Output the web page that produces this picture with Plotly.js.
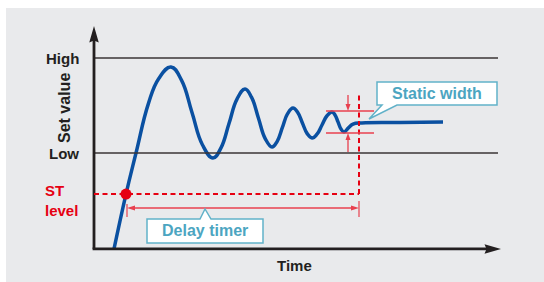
<!DOCTYPE html>
<html>
<head>
<meta charset="utf-8">
<script src="https://cdn.plot.ly/plotly-3.0.1.min.js"></script>
<style>html,body{margin:0;padding:0;background:#fff;}#chart{width:544px;height:282px;}</style>
</head>
<body>
<div id="chart"></div>
<script>
// ---------- data (time units, set-value units: Low = 0, High = 100) ----------
const curveTime  = [5, 8, 10.5, 13.6, 16.2, 19.25, 21.9, 24.5, 27.1, 29.75, 31.75, 33.75, 35.75, 37.75, 39.4, 41.1, 42.8, 44.5, 45.8, 47.1, 48.4, 49.75, 50.9, 52.1, 53.3, 54.5, 55.75, 57, 58.25, 59.5, 60.25, 61, 61.75, 62.5, 63.6, 64.75, 67, 76.5, 87.25];
const curveValue = [-101, -43.2, 0, 52, 78.5, 90.5, 76.5, 42.6, 8.7, -5.3, 5.4, 31, 56.7, 67.4, 58.5, 36.9, 15.2, 6.3, 12.3, 26.9, 41.4, 47.4, 42.8, 31.6, 20.4, 15.8, 19.8, 29.5, 39.2, 43.2, 40.1, 32.7, 25.2, 22.1, 26.5, 30.4, 31.7, 32.2, 32.6];
const levelLabels = ['High', 'Low'];
const levelValues = [100, 0];
const levelEndTime = 101;
const stLevelValue = -43.2;
const stCrossTime = 8;
const delayStartTime = 8.25;
const delayEndTime = 66.25;
const delayArrowValue = -57.9;
const bandTop = 44.2;
const bandBottom = 21.05;
const bandStartTime = 58;
const bandEndTime = 70;
const bandArrowTime = 63.5;
const axisTimeMax = 101.75;
const axisValueMin = -101;
const axisValueMax = 133.7;

// ---------- scale helpers (pixels per unit, used only for sizes) ----------
const PXT = 4, PXV = 0.95;
const dt = p => p / PXT, dv = p => p / PXV;
const RED = '#e60012', PINK = '#e8404f', TEAL = '#4ca5c1', TEALB = '#62b2c9', INK = '#231f20';

function head(t, v, dir, len, wid, notch, color) {
  let pts;
  const L = len, W = wid / 2, N = notch;
  if (dir === 'up')    pts = [[0,0],[-W,-L],[0,-L+N],[W,-L]];
  if (dir === 'down')  pts = [[0,0],[-W,L],[0,L-N],[W,L]];
  if (dir === 'right') pts = [[0,0],[-L,W],[-L+N,0],[-L,-W]];
  if (dir === 'left')  pts = [[0,0],[L,W],[L-N,0],[L,-W]];
  const path = pts.map((p, i) => (i ? 'L' : 'M') + (t + dt(p[0])) + ',' + (v + dv(p[1]))).join('') + 'Z';
  return {type: 'path', xref: 'x', yref: 'y', path: path, fillcolor: color, line: {width: 0}, layer: 'above'};
}
function seg(t0, v0, t1, v1, color, width, dash) {
  return {type: 'line', xref: 'x', yref: 'y', x0: t0, y0: v0, x1: t1, y1: v1, line: {color: color, width: width, dash: dash || 'solid'}, layer: 'above'};
}
function callout(t0, t1, vTop, vBot, baseL, baseR, tipT, tipV, pointerOnTop) {
  let p;
  if (!pointerOnTop) {
    p = `M${t0},${vTop}L${t1},${vTop}L${t1},${vBot}L${baseR},${vBot}L${tipT},${tipV}L${baseL},${vBot}L${t0},${vBot}Z`;
  } else {
    p = `M${t0},${vTop}L${baseL},${vTop}L${tipT},${tipV}L${baseR},${vTop}L${t1},${vTop}L${t1},${vBot}L${t0},${vBot}Z`;
  }
  return {type: 'path', xref: 'x', yref: 'y', path: p, fillcolor: '#ffffff', line: {color: TEALB, width: 1.5}, layer: 'above'};
}

const shapes = [
  {type: 'rect', xref: 'paper', yref: 'paper', x0: 6/544, x1: 1, y0: 0, y1: 1 - 8/282, fillcolor: '#e9eaec', line: {width: 0}, layer: 'below'}
];
levelValues.forEach(v => shapes.push(seg(0, v, levelEndTime, v, '#3a3536', 1.5)));
// axes
shapes.push(seg(0, axisValueMin, 0, axisValueMax - dv(12), INK, 2.8));
shapes.push(seg(-dt(1.4), axisValueMin, axisTimeMax - dt(12), axisValueMin, INK, 2.8));
shapes.push(head(0, axisValueMax, 'up', 16.5, 9.5, 2, INK));
shapes.push(head(axisTimeMax, axisValueMin, 'right', 16.5, 9.5, 2, INK));
// ST level dashed + delay end vertical dashed
shapes.push(seg(0, stLevelValue, delayEndTime, stLevelValue, RED, 2, '5px,3.5px'));
shapes.push(seg(delayEndTime, stLevelValue, delayEndTime, bandTop + dv(17), RED, 2, '5px,3.5px'));
// delay timer arrow
shapes.push(seg(delayStartTime + dt(4), delayArrowValue, delayEndTime - dt(4), delayArrowValue, PINK, 1.5));
shapes.push(head(delayStartTime, delayArrowValue, 'left', 8, 5, 0, PINK));
shapes.push(head(delayEndTime, delayArrowValue, 'right', 8, 5, 0, PINK));
shapes.push(seg(delayStartTime, delayArrowValue + dv(4), delayStartTime, delayArrowValue - dv(9), PINK, 1.2));
shapes.push(seg(delayEndTime, delayArrowValue + dv(7), delayEndTime, delayArrowValue - dv(9), PINK, 1.2));
// static width band
shapes.push(seg(bandStartTime, bandTop, bandEndTime, bandTop, PINK, 1.5));
shapes.push(seg(bandStartTime, bandBottom, bandEndTime, bandBottom, PINK, 1.5));
shapes.push(seg(bandArrowTime, bandTop + dv(16), bandArrowTime, bandTop + dv(4), PINK, 1.3));
shapes.push(head(bandArrowTime, bandTop, 'down', 7, 5, 0, PINK));
shapes.push(seg(bandArrowTime, bandBottom - dv(19), bandArrowTime, bandBottom - dv(4), PINK, 1.3));
shapes.push(head(bandArrowTime, bandBottom, 'up', 7, 5, 0, PINK));
// callouts
shapes.push(callout(70.75, 100.75, 74.7, 50.5, 72, 75.75, 68.75, 35.8, false));
shapes.push(callout(13.25, 42.25, -69.5, -94.7, 26.5, 29.25, 27.75, -58.9, true));

const fontBase = {family: 'Liberation Sans, Arial, sans-serif', size: 15, color: INK};
const annotations = [
  {x: -3.25, y: levelValues[0], text: '<b>' + levelLabels[0] + '</b>', xanchor: 'right', yanchor: 'middle', font: fontBase},
  {x: -3.25, y: levelValues[1], text: '<b>' + levelLabels[1] + '</b>', xanchor: 'right', yanchor: 'middle', font: fontBase},
  {x: -7.25, y: 47.4, text: '<b>Set value</b>', textangle: -90, xanchor: 'center', yanchor: 'middle', font: Object.assign({}, fontBase, {size: 16})},
  {x: -12.75, y: -49.8, text: '<b>ST</b><br><b>level</b>', align: 'left', xanchor: 'left', yanchor: 'middle', font: Object.assign({}, fontBase, {color: RED})},
  {x: 50.1, y: -117.9, text: '<b>Time</b>', xanchor: 'center', yanchor: 'middle', font: fontBase},
  {x: 85.75, y: 62.6, text: '<b>Static width</b>', xanchor: 'center', yanchor: 'middle', font: Object.assign({}, fontBase, {size: 16, color: TEAL})},
  {x: 27.75, y: -82.1, text: '<b>Delay timer</b>', xanchor: 'center', yanchor: 'middle', font: Object.assign({}, fontBase, {size: 16, color: TEAL})}
].map(a => Object.assign({xref: 'x', yref: 'y', showarrow: false}, a));

const traces = [
  {x: curveTime, y: curveValue, type: 'scatter', mode: 'lines', line: {color: '#0a50a1', width: 3.5, shape: 'spline', smoothing: 1.25}, hoverinfo: 'skip'},
  {x: [stCrossTime], y: [stLevelValue], type: 'scatter', mode: 'markers', marker: {color: RED, size: 11}, hoverinfo: 'skip'}
];

const layout = {
  width: 544, height: 282,
  margin: {l: 0, r: 0, t: 0, b: 0},
  paper_bgcolor: '#ffffff', plot_bgcolor: 'rgba(0,0,0,0)',
  showlegend: false,
  xaxis: {range: [-23.5, 112.5], visible: false, fixedrange: true},
  yaxis: {range: [-135.79, 161.05], visible: false, fixedrange: true},
  shapes: shapes,
  annotations: annotations
};
Plotly.newPlot('chart', traces, layout, {staticPlot: true, displayModeBar: false});
</script>
</body>
</html>
